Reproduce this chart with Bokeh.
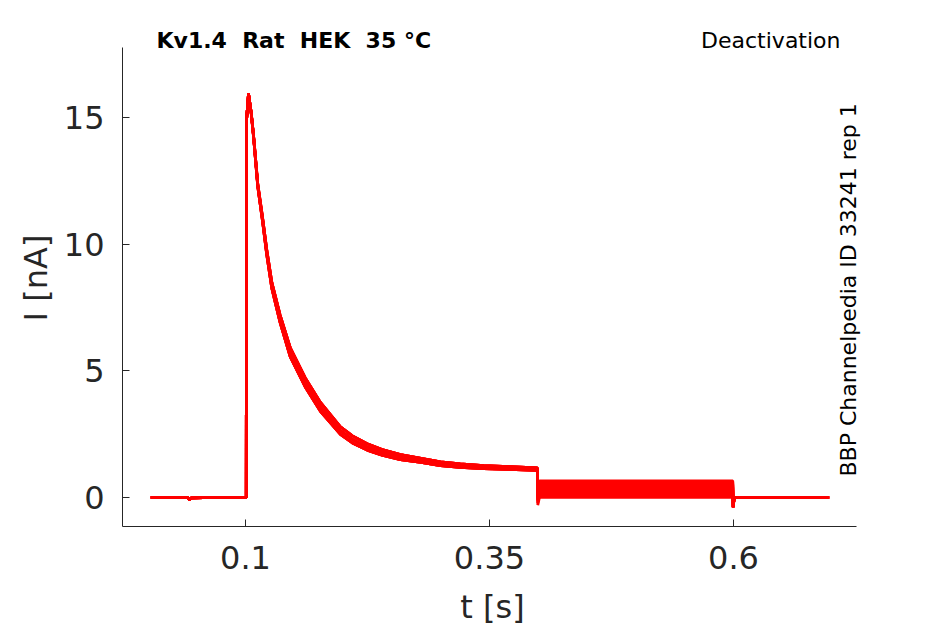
from bokeh.plotting import figure
from bokeh.models import Range1d, FixedTicker, Label, ColumnDataSource
from bokeh.embed import file_html
from bokeh.resources import INLINE

# ---- data ----
pre_t = [0.003, 0.020, 0.041, 0.0425, 0.044, 0.070, 0.0995]
pre_i = [0.0, 0.01, 0.0, -0.09, -0.02, 0.0, 0.0]

rise_t = [0.1008, 0.1011]
rise_i = [0.0, 14.9]

decay_t = [0.1031, 0.1058, 0.1082, 0.1126, 0.1174, 0.1218, 0.1270, 0.1355,
           0.1458, 0.1611, 0.1768, 0.1973, 0.2096, 0.2247, 0.2400, 0.2588,
           0.2800, 0.2998, 0.3200, 0.3440, 0.3700, 0.3990]
decay_hi = [15.94, 15.22, 14.33, 12.38, 11.08, 9.78, 8.49, 7.20,
            5.92, 4.73, 3.75, 2.79, 2.43, 2.12, 1.89, 1.69,
            1.55, 1.41, 1.33, 1.26, 1.22, 1.17]
decay_mid = [15.94, 15.20, 14.29, 12.32, 11.00, 9.68, 8.37, 7.05,
             5.74, 4.55, 3.57, 2.64, 2.29, 1.99, 1.78, 1.59,
             1.46, 1.33, 1.26, 1.20, 1.16, 1.12]
decay_lo = [15.94, 15.18, 14.25, 12.26, 10.92, 9.58, 8.25, 6.90,
            5.56, 4.37, 3.40, 2.49, 2.15, 1.87, 1.67, 1.49,
            1.38, 1.26, 1.19, 1.14, 1.11, 1.07]

step_t = [0.3995, 0.4012, 0.5993]
tail_level = [0.66, 0.60, 0.54, 0.48, 0.42, 0.36, 0.30, 0.24, 0.18, 0.12, 0.06, 0.0]
dip_400 = [0.30, 0.25, 0.20, 0.15, 0.10, 0.05, 0.0, -0.05, -0.10, -0.15, -0.22, -0.30]
decay_group = ["hi", "mid", "lo", "hi", "mid", "lo", "hi", "mid", "lo", "hi", "mid", "lo"]

post_t = [0.5997, 0.6005, 0.602, 0.698]
post_i = [-0.38, -0.08, 0.0, 0.0]

x_ticks = [0.1, 0.35, 0.6]
y_ticks = [0, 5, 10, 15]
x_axis_span = (-0.026, 0.726)
y_axis_span = (-1.145, 17.76)

# ---- build traces ----
decays = {"hi": decay_hi, "mid": decay_mid, "lo": decay_lo}
xs, ys = [], []
for k in range(len(tail_level)):
    xs.append(pre_t + rise_t + decay_t + step_t + post_t)
    ys.append(pre_i + rise_i + decays[decay_group[k]]
              + [dip_400[k], tail_level[k], tail_level[k]] + post_i)
src = ColumnDataSource(dict(xs=xs, ys=ys))

AX = "#262626"
FONT = "DejaVu Sans"

# frame extends slightly above and right of the drawn axes so the texts there are
# not clipped; the axis lines themselves are limited with `bounds`
p = figure(frame_width=740, frame_height=497,
           x_range=Range1d(-0.026, 0.73218), y_range=Range1d(-1.145, 18.4706),
           output_backend="svg", toolbar_location=None, title_location=None,
           min_border_left=122, min_border_top=29, min_border_right=83,
           min_border_bottom=98)
p.outline_line_color = None
p.grid.visible = False
p.background_fill_color = "white"

p.multi_line(xs="xs", ys="ys", source=src, line_color="#ff0000", line_width=2.7)

for ax in (p.xaxis[0], p.yaxis[0]):
    ax.axis_line_color = AX
    ax.major_tick_line_color = AX
    ax.minor_tick_line_color = None
    ax.major_tick_in = 7
    ax.major_tick_out = 0
    ax.major_label_text_color = AX
    ax.major_label_text_font = FONT
    ax.major_label_text_font_size = "32px"
    ax.axis_label_text_color = AX
    ax.axis_label_text_font = FONT
    ax.axis_label_text_font_size = "32px"
    ax.axis_label_text_font_style = "normal"

p.xaxis.bounds = x_axis_span
p.yaxis.bounds = y_axis_span
p.xaxis.ticker = FixedTicker(ticks=x_ticks)
p.yaxis.ticker = FixedTicker(ticks=y_ticks)
p.xaxis.major_label_overrides = {0.1: "0.1", 0.35: "0.35", 0.6: "0.6"}
p.xaxis.axis_label = "t [s]"
p.yaxis.axis_label = "I [nA]"
p.xaxis.major_label_standoff = 19
p.yaxis.major_label_standoff = 18
p.xaxis.axis_label_standoff = 16
p.yaxis.axis_label_standoff = 6

# text positions in screen pixels, relative to the plot frame's lower-left corner
p.add_layout(Label(x=34, y=486.5, x_units="screen", y_units="screen",
                   text="Kv1.4 \u00a0Rat \u00a0HEK \u00a035 °C",
                   text_font=FONT, text_font_size="22px", text_font_style="bold",
                   text_color="black", text_align="left", text_baseline="alphabetic"))
p.add_layout(Label(x=718, y=486.5, x_units="screen", y_units="screen",
                   text="Deactivation",
                   text_font=FONT, text_font_size="22px",
                   text_color="black", text_align="right", text_baseline="alphabetic"))
p.add_layout(Label(x=726, y=50, x_units="screen", y_units="screen",
                   text="BBP Channelpedia ID 33241 rep 1",
                   angle=1.5707963, text_font=FONT, text_font_size="22px",
                   text_color="black", text_align="left", text_baseline="alphabetic"))

open("out.html", "w").write(file_html(p, INLINE))
